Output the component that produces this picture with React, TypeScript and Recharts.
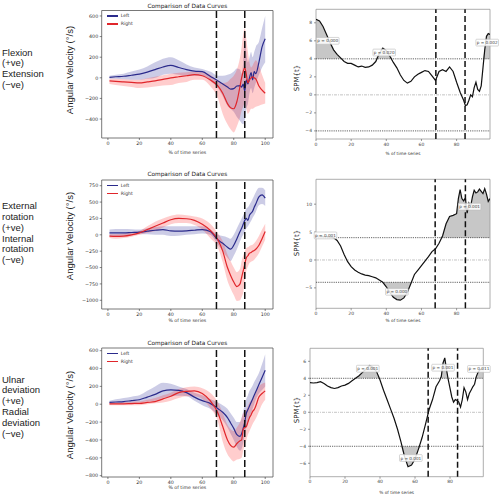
import {
  Area,
  ComposedChart,
  Legend,
  Line,
  ReferenceArea,
  ReferenceDot,
  ReferenceLine,
  XAxis,
  YAxis,
} from "recharts";

// % of time series, shared by the three velocity panels
const pctX = [1, 5, 10, 15, 20, 25, 30, 35, 40, 45, 50, 55, 60, 65, 70, 73, 76, 78, 80, 82, 84, 85, 86, 87, 88, 89, 90, 91, 92, 93, 94, 96, 98, 100];

// flexion / extension
const flxLeft = [5, 10, 15, 25, 35, 55, 80, 105, 120, 100, 80, 65, 60, 15, -30, -60, -90, -110, -105, -80, -75, -90, -60, -130, -20, -60, 0, 50, -20, 60, 40, 150, 300, 380];
const flxLeftHi = [20, 30, 40, 60, 80, 110, 150, 185, 200, 170, 130, 100, 85, 60, 20, 20, 30, 40, 60, 90, 80, 40, 150, 400, 250, 150, 200, 250, 200, 250, 300, 350, 480, 600];
const flxLeftLo = [-10, -10, -15, -20, -20, -10, 0, 30, 40, 30, 20, 20, 20, -30, -100, -180, -270, -300, -330, -380, -420, -440, -450, -420, -300, -250, -150, -100, -150, -100, -50, 30, 100, 150];
const flxRight = [-30, -35, -40, -45, -50, -40, -30, -15, 0, 10, 20, 30, 20, -20, -80, -150, -250, -290, -300, -230, -80, 0, 60, 100, 30, -50, -20, 0, 10, 0, -10, -80, -120, -150];
const flxRightHi = [-10, -10, -15, -20, -20, -5, 10, 25, 40, 50, 55, 60, 55, 30, -30, -50, -40, -10, 20, 80, 200, 300, 420, 480, 380, 250, 150, 100, 120, 150, 170, 120, 30, -50];
const flxRightLo = [-60, -70, -80, -90, -100, -95, -85, -75, -70, -50, -40, -20, -20, -80, -200, -350, -450, -500, -530, -470, -380, -320, -280, -250, -300, -350, -330, -300, -300, -290, -280, -270, -260, -250];

// external / internal rotation
const rotLeft = [30, 30, 30, 35, 40, 55, 70, 80, 60, 55, 60, 70, 80, 50, -80, -130, -190, -220, -160, -60, 50, 100, 160, 220, 250, 220, 300, 330, 360, 420, 470, 580, 610, 560];
const rotLeftHi = [80, 90, 90, 85, 80, 100, 120, 130, 130, 130, 130, 130, 130, 80, 0, -20, -40, -60, 0, 100, 200, 250, 300, 350, 400, 420, 460, 500, 550, 600, 650, 720, 720, 680];
const rotLeftLo = [-20, -20, -20, -5, 10, 10, 0, 0, -20, -15, 0, 10, 20, 0, -150, -250, -350, -400, -320, -220, -100, -40, 0, 50, 100, 130, 170, 210, 260, 300, 350, 450, 470, 440];
const rotRight = [-20, -25, -20, 0, 30, 80, 130, 180, 230, 250, 245, 220, 160, 70, -80, -250, -500, -620, -720, -790, -750, -650, -550, -450, -350, -320, -280, -270, -250, -240, -220, -160, -60, 50];
const rotRightHi = [10, 10, 20, 40, 60, 130, 200, 250, 290, 310, 300, 280, 250, 170, 20, -100, -300, -400, -500, -570, -520, -400, -320, -250, -200, -190, -170, -160, -150, -130, -100, -20, 80, 170];
const rotRightLo = [-50, -60, -50, -30, 0, 30, 60, 110, 160, 180, 180, 150, 80, -50, -200, -420, -700, -820, -920, -1010, -1000, -950, -880, -700, -550, -480, -430, -410, -400, -380, -350, -280, -180, -70];

// ulnar / radial deviation
const devLeft = [20, 25, 30, 40, 50, 80, 110, 150, 160, 155, 130, 80, 40, 10, -50, -90, -150, -210, -270, -340, -360, -330, -270, -200, -100, -60, -20, 20, 60, 100, 140, 220, 300, 380];
const devLeftHi = [40, 55, 70, 85, 100, 150, 200, 240, 230, 200, 170, 130, 100, 60, 20, -10, -50, -100, -150, -200, -200, -150, -80, 0, 60, 100, 150, 180, 210, 250, 280, 350, 450, 560];
const devLeftLo = [0, 5, 10, 15, 20, 30, 40, 70, 90, 95, 90, 40, -10, -50, -120, -180, -260, -330, -400, -480, -520, -500, -430, -350, -260, -200, -150, -100, -50, 0, 50, 120, 160, 200];
const devRight = [5, 5, 5, 8, 10, 20, 30, 60, 90, 130, 145, 150, 120, 40, -100, -250, -400, -460, -480, -440, -410, -400, -280, -260, -250, -200, -150, -120, -80, -60, -20, 80, 120, 150];
const devRightHi = [20, 22, 25, 28, 30, 50, 70, 100, 130, 170, 190, 200, 180, 130, 20, -100, -230, -280, -300, -260, -200, -150, -100, -80, -60, -20, 20, 40, 60, 90, 130, 200, 230, 240];
const devRightLo = [-10, -10, -10, -10, -10, 0, 10, 20, 40, 70, 90, 90, 60, -40, -200, -420, -560, -610, -640, -620, -610, -600, -520, -450, -400, -340, -300, -260, -220, -190, -160, -80, 0, 50];

// SPM{t} traces
const spm1X = [0, 2, 4, 6, 8, 10, 12, 14, 16, 18, 20, 22, 24, 26, 28, 30, 32, 34, 36, 38, 40, 42, 44, 46, 48, 50, 52, 54, 56, 58, 60, 62, 64, 66, 68, 70, 72, 74, 76, 78, 80, 82, 84, 85, 86, 87, 88, 89, 90, 91, 92, 93, 94, 95, 96, 97, 98, 99];
const spm1T = [8.4, 8.2, 7.6, 6.7, 5.8, 5.0, 4.5, 4.1, 3.7, 3.5, 3.5, 3.3, 3.1, 3.2, 3.05, 3.1, 3.3, 3.7, 4.6, 5.2, 4.9, 4.3, 3.6, 3.0, 2.2, 1.6, 1.3, 1.5, 2.0, 2.3, 2.5, 2.7, 2.6, 2.1, 1.6, 2.6, 2.8, 2.6, 3.1, 2.6, 1.4, 0.3, -0.6, -1.2, -1.1, -0.6, 0.0, -0.2, 0.8, 1.4, 0.6, 0.4, 1.0, 3.0, 5.0, 6.5, 6.8, 6.7];
const spm2X = [0, 2, 4, 6, 8, 10, 12, 14, 16, 18, 20, 22, 24, 26, 28, 30, 32, 34, 36, 38, 40, 42, 44, 46, 48, 50, 52, 54, 56, 58, 60, 62, 64, 66, 68, 70, 72, 74, 76, 78, 80, 81, 82, 83, 84, 85, 86, 87, 88, 89, 90, 91, 92, 93, 94, 95, 96, 97, 98, 99];
const spm2T = [4.3, 4.3, 4.2, 4.2, 4.1, 4.0, 3.5, 2.5, 1.0, -0.3, -1.2, -1.8, -2.2, -2.5, -2.7, -2.8, -3.0, -3.2, -3.6, -4.0, -4.8, -5.8, -6.7, -7.1, -7.2, -6.8, -5.8, -4.2, -2.6, -1.8, -1.0, -0.2, 0.6, 1.5, 2.0, 3.0, 4.3, 6.5, 7.8, 8.0, 8.3, 11.0, 12.6, 11.0, 10.6, 11.1, 8.4, 10.2, 9.6, 11.3, 12.5, 12.0, 12.2, 12.7, 12.3, 11.9, 12.8, 11.8, 10.5, 11.0];
const spm3X = [0, 2, 4, 6, 8, 10, 12, 14, 16, 18, 20, 22, 24, 26, 28, 30, 32, 34, 36, 38, 40, 42, 44, 46, 48, 50, 52, 54, 56, 58, 60, 62, 64, 66, 68, 70, 72, 74, 75, 76, 77, 78, 79, 80, 81, 82, 83, 84, 85, 86, 87, 88, 89, 90, 91, 92, 93, 94, 95, 96, 97, 98, 99];
const spm3T = [3.5, 3.45, 3.5, 3.6, 3.4, 3.1, 2.9, 2.8, 2.9, 3.1, 3.2, 3.4, 3.7, 4.0, 4.3, 4.7, 5.1, 5.5, 5.3, 4.8, 3.8, 2.6, 1.5, 0.4, -0.7, -2.0, -3.5, -5.2, -6.4, -6.2, -5.5, -4.3, -3.0, -1.4, 0.3, 1.5, 3.0, 3.7, 4.2, 5.8, 6.4, 5.0, 3.8, 2.8, 1.8, 1.2, 1.5, 1.4, 1.2, 0.6, 1.5, 2.9, 2.4, 1.5, 2.2, 2.6, 3.0, 3.3, 4.2, 4.7, 5.0, 5.1, 5.15];

const tCrit = 4;

// cluster p-values: [x, y, text]
const spm1P: [number, number, string][] = [[6.7, 6.0, "p = 0.000"], [38.8, 4.7, "p = 0.020"], [97.4, 5.8, "p = 0.002"]];
const spm2P: [number, number, string][] = [[5.4, 4.4, "p = 0.001"], [46, -5.7, "p = 0.000"], [87.4, 9.55, "p = 0.001"]];
const spm3P: [number, number, string][] = [[33, 5.13, "p = 0.001"], [57.6, -5.38, "p = 0.001"], [76, 5.25, "p = 0.001"], [96.5, 5.1, "p = 0.011"]];

type Box = { left: number; top: number; width: number; height: number };
type Plot = { l: number; t: number; r: number; b: number };

const minus = (v: number) => String(v).replace("-", "\u2212");

const vLabel = (text: string, x: number, y: number, style: React.CSSProperties) => () => (
  <text x={x} y={y} transform={`rotate(-90 ${x} ${y})`} textAnchor="middle" dominantBaseline="central" style={style}>
    {text}
  </text>
);

const hLabel = (text: string, x: number, y: number, size: number) => () => (
  <text x={x} y={y} textAnchor="middle" dominantBaseline="central" style={{ fontFamily: "DejaVu Sans", fontSize: size, fill: "#333" }}>
    {text}
  </text>
);

const pBox = (text: string) => ({ viewBox }: any) => {
  const cx = viewBox.x + viewBox.width / 2;
  const cy = viewBox.y + viewBox.height / 2;
  return (
    <g>
      <rect x={cx - 11.3} y={cy - 3.4} width={22.6} height={6.8} rx={0.8} fill="#fff" fillOpacity={0.85} stroke="#bbb" strokeWidth={0.6} />
      <text x={cx} y={cy} textAnchor="middle" dominantBaseline="central" style={{ fontFamily: "DejaVu Sans", fontSize: 4.2, fill: "#444" }}>
        {text}
      </text>
    </g>
  );
};

const legendContent = ({ payload }: any) => (
  <div style={{ fontFamily: "DejaVu Sans", fontSize: 4.6, color: "#333", lineHeight: "8px" }}>
    {(payload ?? [])
      .filter((p: any) => p.value === "Left" || p.value === "Right")
      .map((p: any) => (
        <div key={p.value} style={{ display: "flex", alignItems: "center" }}>
          <span style={{ display: "inline-block", width: 11.5, height: 1.3, background: p.color, marginRight: 2.5 }} />
          {p.value}
        </div>
      ))}
  </div>
);

interface VelocityProps {
  box: Box;
  plot: Plot;
  left: number[];
  leftLo: number[];
  leftHi: number[];
  right: number[];
  rightLo: number[];
  rightHi: number[];
  yDomain: [number, number];
  yTicks: number[];
  titleY: number;
  yLabelY: number;
  xLabelY: number;
  cuts: number[];
}

const VelocityPanel = ({ box, plot, left, leftLo, leftHi, right, rightLo, rightHi, yDomain, yTicks, titleY, yLabelY, xLabelY, cuts }: VelocityProps) => {
  const data = pctX.map((x, i) => ({
    x,
    left: left[i],
    right: right[i],
    leftBand: [leftLo[i], leftHi[i]],
    rightBand: [rightLo[i], rightHi[i]],
  }));
  const xDomain: [number, number] = [-3.95, 104.95];
  const tick = { fontFamily: "DejaVu Sans", fontSize: 4.8, fill: "#333" };
  const midX = (plot.l + plot.r) / 2 - box.left;
  return (
    <>
      <div
        style={{
          position: "absolute",
          left: plot.l,
          width: plot.r - plot.l,
          top: titleY - 4,
          lineHeight: "8px",
          textAlign: "center",
          fontFamily: "DejaVu Sans",
          fontSize: 5.8,
          color: "#222",
        }}
      >
        Comparison of Data Curves
      </div>
      <div style={{ position: "absolute", left: box.left, top: box.top }}>
        <ComposedChart
          width={box.width}
          height={box.height}
          data={data}
          margin={{ top: plot.t - box.top, right: box.left + box.width - plot.r, bottom: 0, left: 0 }}
        >
          <XAxis
            type="number"
            dataKey="x"
            domain={xDomain}
            allowDataOverflow
            ticks={[0, 20, 40, 60, 80, 100]}
            height={box.top + box.height - plot.b}
            axisLine={false}
            tickSize={2}
            tickMargin={2}
            tickLine={{ stroke: "#333", strokeWidth: 0.6 }}
            tick={tick}
            label={hLabel("% of time series", midX, xLabelY - box.top, 4.7)}
          />
          <YAxis
            type="number"
            domain={yDomain}
            allowDataOverflow
            ticks={yTicks}
            width={plot.l - box.left}
            axisLine={false}
            tickSize={2}
            tickMargin={1.5}
            tickLine={{ stroke: "#333", strokeWidth: 0.6 }}
            tick={tick}
            tickFormatter={minus}
            label={vLabel("Angular Velocity (°/s)", 9.5, yLabelY - box.top, { fontFamily: "Liberation Sans", fontSize: 9.5, fill: "#222" })}
          />
          <Area dataKey="leftBand" type="monotone" stroke="none" fill="#000080" fillOpacity={0.2} legendType="none" isAnimationActive={false} />
          <Area dataKey="rightBand" type="monotone" stroke="none" fill="#ff1a1a" fillOpacity={0.22} legendType="none" isAnimationActive={false} />
          <Line dataKey="left" name="Left" type="monotone" stroke="#2b2b8c" strokeWidth={1.2} dot={false} isAnimationActive={false} />
          <Line dataKey="right" name="Right" type="monotone" stroke="#e0262b" strokeWidth={1.2} dot={false} isAnimationActive={false} />
          <ReferenceArea x1={xDomain[0]} x2={xDomain[1]} y1={yDomain[0]} y2={yDomain[1]} fill="none" stroke="#555" strokeWidth={0.8} ifOverflow="visible" />
          {cuts.map((c) => (
            <ReferenceLine key={c} x={c} stroke="#111" strokeWidth={1.5} strokeDasharray="7 3" />
          ))}
          <Legend
            layout="vertical"
            align="center"
            verticalAlign="middle"
            content={legendContent}
            wrapperStyle={{ top: plot.t - box.top + 1.5, left: plot.l - box.left + 5, width: "auto", height: "auto" }}
          />
        </ComposedChart>
      </div>
    </>
  );
};

interface SpmProps {
  box: Box;
  plot: Plot;
  xs: number[];
  ts: number[];
  yDomain: [number, number];
  yTicks: number[];
  cuts: number[];
  pLabels: [number, number, string][];
  yLabelY: number;
  xLabelY: number;
}

const SpmPanel = ({ box, plot, xs, ts, yDomain, yTicks, cuts, pLabels, yLabelY, xLabelY }: SpmProps) => {
  const data = xs.map((x, i) => ({
    x,
    t: ts[i],
    above: [tCrit, Math.max(ts[i], tCrit)],
    below: [Math.min(ts[i], -tCrit), -tCrit],
  }));
  const xDomain: [number, number] = [0, 99];
  const tick = { fontFamily: "DejaVu Sans", fontSize: 4.5, fill: "#444" };
  const midX = (plot.l + plot.r) / 2 - box.left;
  return (
    <div style={{ position: "absolute", left: box.left, top: box.top }}>
      <ComposedChart
        width={box.width}
        height={box.height}
        data={data}
        margin={{ top: plot.t - box.top, right: box.left + box.width - plot.r, bottom: 0, left: 0 }}
      >
        <XAxis
          type="number"
          dataKey="x"
          domain={xDomain}
          allowDataOverflow
          ticks={[0, 20, 40, 60, 80]}
          height={box.top + box.height - plot.b}
          axisLine={false}
          tickSize={2}
          tickMargin={1.5}
          tickLine={{ stroke: "#555", strokeWidth: 0.6 }}
          tick={tick}
          label={hLabel("% of time series", midX, xLabelY - box.top, 4.3)}
        />
        <YAxis
          type="number"
          domain={yDomain}
          allowDataOverflow
          ticks={yTicks}
          width={plot.l - box.left}
          axisLine={false}
          tickSize={2}
          tickMargin={2}
          tickLine={{ stroke: "#555", strokeWidth: 0.6 }}
          tick={tick}
          tickFormatter={minus}
          label={vLabel("SPM{t}", 297 - box.left, yLabelY - box.top, { fontFamily: "DejaVu Sans", fontSize: 7, fill: "#222" })}
        />
        <Area dataKey="above" type="linear" stroke="none" fill="#bdbdbd" fillOpacity={0.85} isAnimationActive={false} />
        <Area dataKey="below" type="linear" stroke="none" fill="#bdbdbd" fillOpacity={0.85} isAnimationActive={false} />
        <ReferenceLine y={tCrit} stroke="#222" strokeWidth={0.7} strokeDasharray="1.2 1" />
        <ReferenceLine y={-tCrit} stroke="#222" strokeWidth={0.7} strokeDasharray="1.2 1" />
        <ReferenceLine y={0} stroke="#aaa" strokeWidth={0.7} strokeDasharray="3 1 1 1" />
        <Line dataKey="t" type="linear" stroke="#111" strokeWidth={1.2} dot={false} isAnimationActive={false} />
        {pLabels.map(([x, y, text]) => (
          <ReferenceDot key={text + x} x={x} y={y} r={0.5} fill="none" stroke="none" label={pBox(text)} />
        ))}
        <ReferenceArea x1={xDomain[0]} x2={xDomain[1]} y1={yDomain[0]} y2={yDomain[1]} fill="none" stroke="#999" strokeWidth={0.8} ifOverflow="visible" />
        {cuts.map((c) => (
          <ReferenceLine key={c} x={c} stroke="#111" strokeWidth={1.5} strokeDasharray="6 3" />
        ))}
      </ComposedChart>
    </div>
  );
};

const rowLabel = (lines: string[], top: number) => (
  <div
    style={{
      position: "absolute",
      left: 2,
      top,
      fontFamily: "Liberation Sans",
      fontSize: 9.5,
      lineHeight: "10.8px",
      color: "#222",
    }}
  >
    {lines.map((l) => (
      <div key={l + top + Math.random()}>{l}</div>
    ))}
  </div>
);

export default function App() {
  return (
    <div style={{ position: "absolute", left: 0, top: 0, width: 500, height: 497, background: "#fff", overflow: "hidden" }}>
      {rowLabel(["Flexion", "(+ve)", "Extension", "(\u2212ve)"], 47.6)}
      {rowLabel(["External", "rotation", "(+ve)", "Internal", "rotation", "(\u2212ve)"], 201.3)}
      {rowLabel(["Ulnar", "deviation", "(+ve)", "Radial", "deviation", "(\u2212ve)"], 374.6)}

      <VelocityPanel
        box={{ left: 60, top: 0, width: 220, height: 165 }}
        plot={{ l: 101.7, t: 10.5, r: 273, b: 138 }}
        left={flxLeft}
        leftLo={flxLeftLo}
        leftHi={flxLeftHi}
        right={flxRight}
        rightLo={flxRightLo}
        rightHi={flxRightHi}
        yDomain={[-584, 653]}
        yTicks={[-400, -200, 0, 200, 400, 600]}
        titleY={5.7}
        yLabelY={70}
        xLabelY={152}
        cuts={[69, 87]}
      />
      <VelocityPanel
        box={{ left: 60, top: 165, width: 220, height: 165 }}
        plot={{ l: 101.7, t: 180, r: 273, b: 309 }}
        left={rotLeft}
        leftLo={rotLeftLo}
        leftHi={rotLeftHi}
        right={rotRight}
        rightLo={rotRightLo}
        rightHi={rotRightHi}
        yDomain={[-1133, 837]}
        yTicks={[-1000, -750, -500, -250, 0, 250, 500, 750]}
        titleY={174.3}
        yLabelY={236}
        xLabelY={320}
        cuts={[69, 87]}
      />
      <VelocityPanel
        box={{ left: 60, top: 330, width: 220, height: 167 }}
        plot={{ l: 101.7, t: 348, r: 273, b: 477 }}
        left={devLeft}
        leftLo={devLeftLo}
        leftHi={devLeftHi}
        right={devRight}
        rightLo={devRightLo}
        rightHi={devRightHi}
        yDomain={[-815, 630]}
        yTicks={[-800, -600, -400, -200, 0, 200, 400, 600]}
        titleY={343.3}
        yLabelY={415}
        xLabelY={487}
        cuts={[69, 87]}
      />

      <SpmPanel
        box={{ left: 285, top: 0, width: 215, height: 165 }}
        plot={{ l: 316, t: 9.3, r: 490, b: 139 }}
        xs={spm1X}
        ts={spm1T}
        yDomain={[-4.9, 9.5]}
        yTicks={[-4, -2, 0, 2, 4, 6, 8]}
        cuts={[68.2, 84.8]}
        pLabels={spm1P}
        yLabelY={78}
        xLabelY={153}
      />
      <SpmPanel
        box={{ left: 285, top: 165, width: 215, height: 165 }}
        plot={{ l: 316, t: 179.3, r: 490, b: 308.3 }}
        xs={spm2X}
        ts={spm2T}
        yDomain={[-8.66, 14.46]}
        yTicks={[-5, 0, 5, 10]}
        cuts={[67.8, 85]}
        pLabels={spm2P}
        yLabelY={243}
        xLabelY={320.5}
      />
      <SpmPanel
        box={{ left: 285, top: 330, width: 215, height: 167 }}
        plot={{ l: 310, t: 348.3, r: 483.3, b: 476.7 }}
        xs={spm3X}
        ts={spm3T}
        yDomain={[-7.58, 7.53]}
        yTicks={[-6, -4, -2, 0, 2, 4, 6]}
        cuts={[67.5, 84.3]}
        pLabels={spm3P}
        yLabelY={410}
        xLabelY={492}
      />
    </div>
  );
}
